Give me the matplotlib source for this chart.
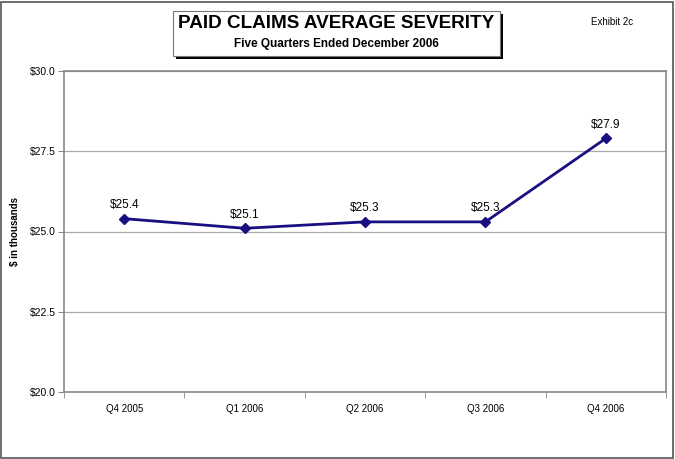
import matplotlib
matplotlib.use("Agg")
import matplotlib.pyplot as plt
from matplotlib.patches import Rectangle

categories = ["Q4 2005", "Q1 2006", "Q2 2006", "Q3 2006", "Q4 2006"]
values = [25.4, 25.1, 25.3, 25.3, 27.9]
yticks = [20.0, 22.5, 25.0, 27.5, 30.0]

plt.rcParams['font.family'] = ['Liberation Sans', 'DejaVu Sans']

W, H = 675, 459
fig = plt.figure(figsize=(W/100, H/100), dpi=100)
fig.patch.set_facecolor('white')

# outer border
fig.add_artist(Rectangle((1/W, 1/H), (672)/W, (456)/H, transform=fig.transFigure,
                         fill=False, edgecolor='#555555', linewidth=1.2))

left, right, top, bottom = 64, 666, 71, 392
ax = fig.add_axes([left/W, 1 - bottom/H, (right-left)/W, (bottom-top)/H])
x = list(range(len(categories)))
ax.plot(x, values, color='#1a0f80', linewidth=2, marker='D', markersize=5,
        markerfacecolor='#1a0f80', markeredgecolor='#1a0f80', zorder=3)
for xi, v in zip(x, values):
    ax.annotate(f"${v:.1f}", (xi, v), xytext=(0, 5.5), textcoords='offset points',
                ha='center', va='bottom', fontsize=8.5)

ax.set_xlim(-0.5, 4.5)
ax.set_ylim(20, 30)
ax.set_yticks(yticks)
ax.set_yticklabels([f"${t:.1f}" for t in yticks], fontsize=7.5)
ax.set_xticks(x)
ax.set_xticklabels(categories, fontsize=7)
ax.set_xticks([i + 0.5 for i in range(-1, 5)], minor=True)
ax.tick_params(axis='x', which='major', length=0, pad=9)
ax.tick_params(axis='x', which='minor', length=4, color='#888888')
ax.tick_params(axis='y', length=4, color='#888888', pad=2)
ax.grid(axis='y', color='#aaaaaa', linewidth=0.9)
ax.set_axisbelow(True)
for s in ax.spines.values():
    s.set_color('#888888')
    s.set_linewidth(1.2)
ax.set_ylabel("$ in thousands", fontsize=7, fontweight='bold')
ax.yaxis.set_label_coords((20 - left) / (right - left), 0.5)

# title box with shadow
bx, by, bw, bh = 173, 11, 327, 45
fig.add_artist(Rectangle(((bx+3)/W, 1-(by+bh+3)/H), bw/W, bh/H, transform=fig.transFigure,
                         facecolor='black', edgecolor='black', linewidth=0))
fig.add_artist(Rectangle((bx/W, 1-(by+bh)/H), bw/W, bh/H, transform=fig.transFigure,
                         facecolor='white', edgecolor='#777777', linewidth=0.8))
fig.text((bx+bw/2)/W, 1-23/H, "PAID CLAIMS AVERAGE SEVERITY", ha='center', va='center',
         fontsize=13.6, fontweight='bold')
fig.text((bx+bw/2)/W, 1-44/H, "Five Quarters Ended December 2006", ha='center', va='center',
         fontsize=8.5, fontweight='bold')
fig.text(612/W, 1-22/H, "Exhibit 2c", ha='center', va='center', fontsize=7)

fig.savefig("out.png", dpi=100)
